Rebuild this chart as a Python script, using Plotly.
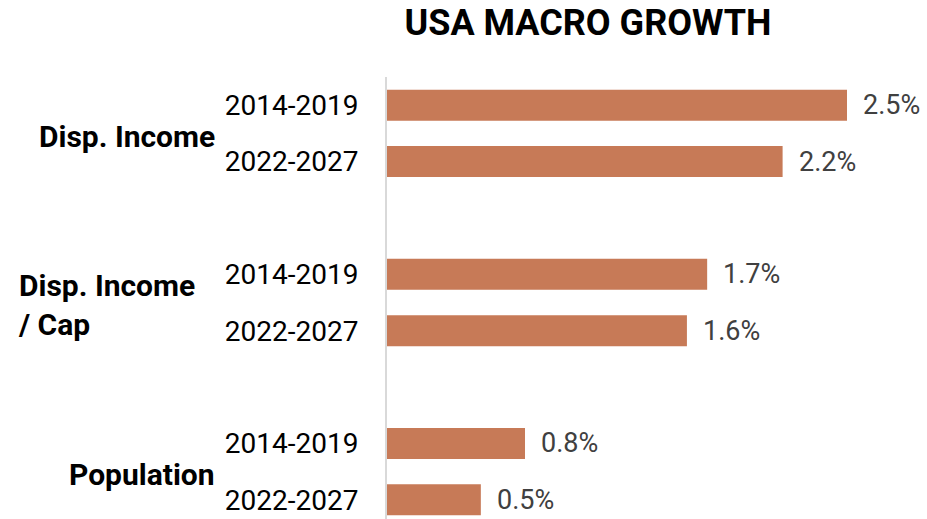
import plotly.graph_objects as go

# ---- data ----
groups = ["Disp. Income", "Disp. Income<br>/ Cap", "Population"]
periods = ["2014-2019", "2022-2027", "2014-2019", "2022-2027", "2014-2019", "2022-2027"]
values = [2.50, 2.15, 1.74, 1.63, 0.75, 0.51]
value_labels = ["2.5%", "2.2%", "1.7%", "1.6%", "0.8%", "0.5%"]
positions = [0, 1, 3, 4, 6, 7]          # slot index of each bar (empty slots between groups)
group_positions = [0.55, 3.55, 6.55]

BAR = "#C77A57"
FONT = "Roboto"

fig = go.Figure()
fig.add_trace(go.Bar(
    x=values, y=positions, orientation="h",
    marker=dict(color=BAR, line=dict(width=0)),
    width=0.55, hoverinfo="skip",
))

annotations = []
for v, p, lab in zip(values, positions, value_labels):
    annotations.append(dict(
        x=v, y=p, xref="x", yref="y", text=lab, showarrow=False,
        xanchor="left", yanchor="middle", xshift=14,
        font=dict(family=FONT, size=27, color="#404040"),
    ))

gfont = dict(family=FONT, size=30, color="black", weight="bold")
annotations.append(dict(x=0, y=group_positions[0], xref="paper", yref="y", text=groups[0],
                        showarrow=False, xanchor="right", yanchor="middle", xshift=-170, font=gfont))
annotations.append(dict(x=0, y=group_positions[1], xref="paper", yref="y", text=groups[1],
                        showarrow=False, xanchor="left", yanchor="middle", xshift=-371,
                        align="left", font=gfont))
annotations.append(dict(x=0, y=group_positions[2], xref="paper", yref="y", text=groups[2],
                        showarrow=False, xanchor="right", yanchor="middle", xshift=-170, font=gfont))

fig.update_layout(
    width=927, height=519,
    margin=dict(l=387, r=0, t=77, b=0),
    paper_bgcolor="white", plot_bgcolor="white",
    showlegend=False,
    title=dict(text="<b>USA MACRO GROWTH</b>", x=588 / 927, xref="container", xanchor="center",
               y=1 - 22 / 519, yref="container", yanchor="middle",
               font=dict(family=FONT, size=36, color="black")),
    xaxis=dict(range=[0, 540 / 184], visible=False, fixedrange=True),
    yaxis=dict(range=[7.34, -0.5], tickvals=positions, ticktext=periods,
               showgrid=False, zeroline=False, ticks="",
               showline=True, linecolor="#D9D9D9", linewidth=2,
               ticklabelstandoff=21,
               tickfont=dict(family=FONT, size=28, color="black"), fixedrange=True),
    annotations=annotations,
)

fig.write_html("out.html", config={"displayModeBar": False},
               post_script="document.body.style.margin='0';document.body.style.overflow='hidden';")
